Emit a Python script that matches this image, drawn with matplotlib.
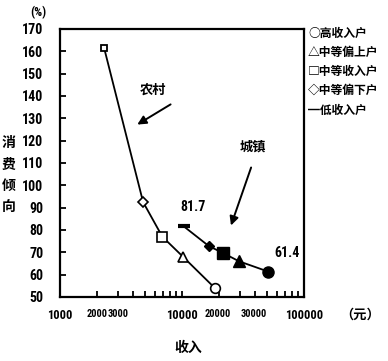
import matplotlib
matplotlib.use("Agg")
import matplotlib.pyplot as plt
from matplotlib.ticker import FixedLocator, NullFormatter, LogLocator
from matplotlib import font_manager
from matplotlib.transforms import ScaledTranslation

plt.rcParams['font.family'] = ['Noto Sans CJK SC', 'DejaVu Sans']

# ---- data ----
income_groups = ['低收入户', '中等偏下户', '中等收入户', '中等偏上户', '高收入户']
group_markers = ['_', 'D', 's', '^', 'o']
legend_symbols = ['○', '△', '□', '◇', '━']
legend_labels = ['高收入户', '中等偏上户', '中等收入户', '中等偏下户', '低收入户']

rural_income = [2300, 4800, 6900, 10200, 18600]
rural_prop = [161.5, 92.5, 77.0, 68.0, 54.0]
urban_income = [10300, 16600, 21700, 29300, 50700]
urban_prop = [81.7, 72.8, 69.7, 66.0, 61.4]

x_ticks = [1000, 2000, 3000, 10000, 20000, 30000, 100000]
x_ticklabels = ['1000', '2000', '3000', '10000', '20000', '30000', '100000']
y_ticks = list(range(50, 171, 10))

# narrow font for numbers
names = {f.name for f in font_manager.fontManager.ttflist}
num_font = 'DejaVu Sans'
for cand in ['Liberation Sans Narrow', 'Roboto Condensed', 'Archivo Narrow',
             'PT Sans Narrow', 'Pragati Narrow', 'Open Sans Condensed',
             'Fira Sans Condensed', 'IBM Plex Sans Condensed', 'Encode Sans Condensed',
             'Barlow Condensed', 'Oswald']:
    if cand in names:
        num_font = cand
        break

fig = plt.figure(figsize=(3.88, 3.61), dpi=100)
ax = fig.add_axes([0.1546, 0.1773, 0.6289, 0.7424])

ax.set_xscale('log')
ax.set_xlim(1000, 100000)
ax.set_ylim(50, 170)

# rural line
ax.plot(rural_income, rural_prop, color='black', lw=1.3, zorder=2)
for x, y, m in zip(rural_income, rural_prop, group_markers):
    if m == '_':
        ax.plot(x, y, marker='s', ms=4, mfc='white', mec='black', mew=1.3, zorder=3)
    else:
        ax.plot(x, y, marker=m, ms=7 if m != 'D' else 5, mfc='white', mec='black',
                mew=1.2, zorder=3)

# urban line
ax.plot(urban_income, urban_prop, color='black', lw=1.3, zorder=2)
for x, y, m in zip(urban_income, urban_prop, group_markers):
    if m == '_':
        ax.plot(x, y, marker='_', ms=9, mec='black', mew=3, zorder=3)
    else:
        ax.plot(x, y, marker=m, ms=8 if m != 'D' else 5.5, mfc='black', mec='black',
                mew=1, zorder=3)

# value labels
ax.annotate(f'{urban_prop[0]}', (urban_income[0], urban_prop[0]), xytext=(7, 14),
            textcoords='offset points', ha='center', va='center',
            fontsize=10, fontweight='bold', family=num_font)
ax.annotate(f'{urban_prop[-1]}', (urban_income[-1], urban_prop[-1]), xytext=(14, 13),
            textcoords='offset points', ha='center', va='center',
            fontsize=10, fontweight='bold', family=num_font)

# series names with arrows
ax.text(0.381, 0.772, '农村', transform=ax.transAxes, ha='center', va='center',
        fontsize=9.5, fontweight='bold')
ax.annotate('', xy=(0.307, 0.638), xytext=(0.463, 0.724), xycoords='axes fraction',
            textcoords='axes fraction',
            arrowprops=dict(arrowstyle='-|>', lw=1.4, color='black', mutation_scale=13))
ax.text(0.791, 0.560, '城镇', transform=ax.transAxes, ha='center', va='center',
        fontsize=9.5, fontweight='bold')
ax.annotate('', xy=(0.697, 0.257), xytext=(0.787, 0.493), xycoords='axes fraction',
            textcoords='axes fraction',
            arrowprops=dict(arrowstyle='-|>', lw=1.4, color='black', mutation_scale=13))

# axes styling
for s in ax.spines.values():
    s.set_linewidth(1.6)
ax.xaxis.set_major_locator(FixedLocator(x_ticks))
ax.set_xticklabels(x_ticklabels)
ax.xaxis.set_minor_locator(LogLocator(base=10, subs=range(2, 10)))
ax.xaxis.set_minor_formatter(NullFormatter())
ax.set_yticks(y_ticks)
ax.tick_params(axis='both', which='both', direction='in', length=4, width=1.3)
ax.tick_params(axis='x', which='major', length=4, pad=9)
ax.tick_params(axis='y', pad=12)
for lab in ax.get_xticklabels():
    txt = lab.get_text()
    lab.set_family(num_font); lab.set_fontweight('bold')
    lab.set_fontsize(7.5 if txt in ('2000', '3000', '20000', '30000') else 9)
    if txt == '30000':
        lab.set_transform(lab.get_transform() + ScaledTranslation(10 / 72, 0, fig.dpi_scale_trans))
    if txt == '20000':
        lab.set_transform(lab.get_transform() + ScaledTranslation(-1 / 72, 0, fig.dpi_scale_trans))
for lab in ax.get_yticklabels():
    lab.set_family(num_font); lab.set_fontsize(10); lab.set_fontweight('bold')

# axis titles
fig.text(0.098, 0.965, '(%)', ha='center', va='center', fontsize=9, fontweight='bold',
         family=num_font)
for i, ch in enumerate('消费倾向'):
    fig.text(0.022, 1 - (143 + i * 21.5) / 361, ch, ha='center', va='center',
             fontsize=10, fontweight='bold')
fig.text(188 / 388, 1 - 348 / 361, '收入', ha='center', va='center', fontsize=10,
         fontweight='bold')
fig.text(360 / 388, 1 - 315 / 361, '（元）', ha='center', va='center', fontsize=9.5,
         fontweight='bold')

# legend as text
ys = [33, 52, 71, 90, 110]
for y, sym, lab in zip(ys, legend_symbols, legend_labels):
    fig.text(308 / 388, 1 - y / 361, sym + lab, ha='left', va='center', fontsize=8.5,
             fontweight='bold', family=['Noto Sans CJK SC', 'DejaVu Sans'])

fig.savefig('out.png', dpi=100)
